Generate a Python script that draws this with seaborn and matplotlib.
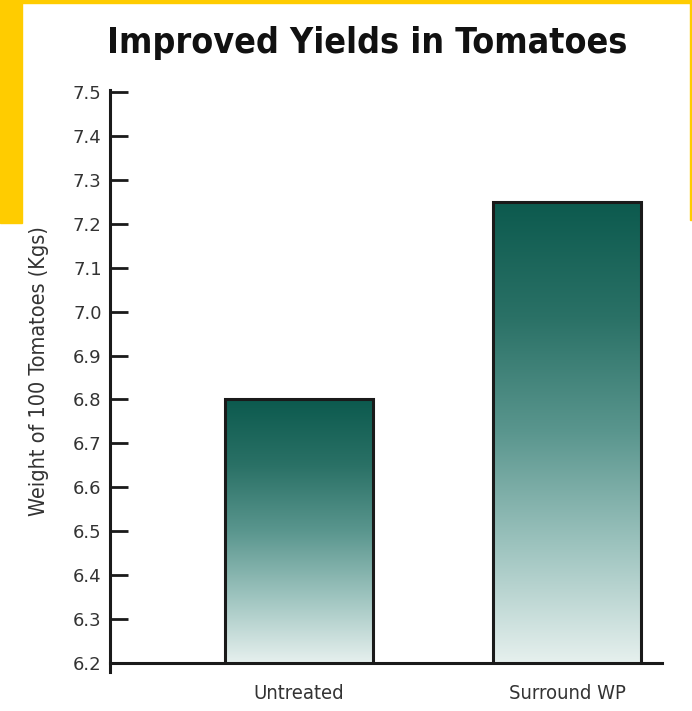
import numpy as np
import pandas as pd
import matplotlib
matplotlib.use("Agg")
import matplotlib.pyplot as plt
from matplotlib.colors import LinearSegmentedColormap
from matplotlib.patches import Rectangle
import seaborn as sns

categories = ["Untreated", "Surround WP"]
weights = [6.80, 7.25]
yticks = [6.2, 6.3, 6.4, 6.5, 6.6, 6.7, 6.8, 6.9, 7.0, 7.1, 7.2, 7.3, 7.4, 7.5]

title = "Improved Yields in Tomatoes"
ylabel = "Weight of 100 Tomatoes (Kgs)"

sns.set_theme(style="white")
plt.rcParams['font.family'] = ['DejaVu Sans']

df = pd.DataFrame({"Treatment": categories, "Weight": weights})

fig = plt.figure(figsize=(6.92, 7.11), dpi=100)
ax = fig.add_axes([0.159, 0.0675, 0.798, 0.803])

sns.barplot(data=df, x="Treatment", y="Weight", ax=ax, width=0.552,
            color="white", edgecolor="#1a1a1a", linewidth=2.2, zorder=3)

cmap = LinearSegmentedColormap.from_list(
    "teal", ["#e6f0ee", "#9ec4bf", "#5a968e", "#2a7166", "#0c5a4e"])
grad = np.linspace(0, 1, 256).reshape(-1, 1)
for patch in ax.patches:
    x0, y0 = patch.get_x(), patch.get_y()
    w, h = patch.get_width(), patch.get_height()
    ybot = max(y0, 6.2)
    im = ax.imshow(grad, cmap=cmap, origin="lower", aspect="auto",
                   extent=[x0, x0 + w, ybot, y0 + h], zorder=2,
                   interpolation="bilinear")
    im.set_clip_path(patch)
    patch.set_facecolor("none")
ax.set_xlim(-0.705, 1.354)
ax.set_ylim(6.2, 7.5)

ax.set_yticks(yticks)
ax.set_yticklabels([f"{v:.1f}" for v in yticks])
ax.tick_params(axis="y", direction="in", length=13, width=2, color="#1a1a1a",
               labelsize=13, labelcolor="#333333", pad=6, left=True)
ax.tick_params(axis="x", length=0, labelsize=14.5, labelcolor="#333333", pad=15)
for lab in ax.get_xticklabels():
    lab.set_fontstretch("condensed")

for s in ["top", "right"]:
    ax.spines[s].set_visible(False)
ax.spines["left"].set_linewidth(2.2)
ax.spines["left"].set_color("#1a1a1a")
ax.spines["left"].set_bounds(6.18, 7.505)
ax.spines["bottom"].set_linewidth(2.2)
ax.spines["bottom"].set_color("#1a1a1a")

ax.set_xlabel("")
ax.set_ylabel(ylabel, fontsize=15.5, color="#333333", fontstretch="condensed")
ax.yaxis.set_label_coords(-0.11, 0.512)

fig.text(0.531, 0.94, title, ha="center", va="center", fontsize=25.7,
         fontweight="bold", fontstretch="condensed", color="#111111")

# yellow frame
fig.patches.append(Rectangle((0, 1 - 223 / 711), 22 / 692, 223 / 711,
                             transform=fig.transFigure, color="#FFCC00", zorder=0))
fig.patches.append(Rectangle((0, 1 - 3 / 711), 1, 3 / 711,
                             transform=fig.transFigure, color="#FFCC00", zorder=0))
fig.patches.append(Rectangle((1 - 2 / 692, 1 - 220 / 711), 2 / 692, 220 / 711,
                             transform=fig.transFigure, color="#FFCC00", zorder=0))

fig.savefig("out.png", dpi=100)
